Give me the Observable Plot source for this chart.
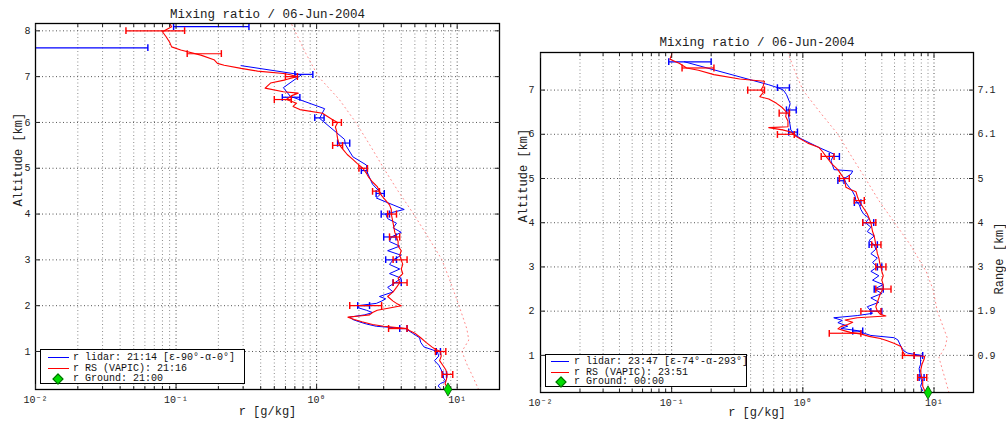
<!DOCTYPE html>
<html><head><meta charset="utf-8">
<script src="https://cdn.jsdelivr.net/npm/d3@7"></script>
<script src="https://cdn.jsdelivr.net/npm/@observablehq/plot@0.6"></script>
<style>
body{margin:0;background:#fff;}
#wrap{position:relative;width:1006px;height:422px;overflow:hidden;font-family:"Liberation Mono","DejaVu Sans Mono",monospace;background:#fff;}
.panel{position:absolute;top:0;}
.legend{position:absolute;border:1px solid #000;background:#fff;font-size:10px;color:#111;box-sizing:border-box;}
.row{position:absolute;left:0;right:0;white-space:nowrap;line-height:11px;height:11px;}
.sw{position:absolute;top:5px;height:1.4px;}
.dia{position:absolute;top:2px;width:6px;height:6px;background:#00dd00;border:1px solid #006600;transform:rotate(45deg);}
.lt{position:absolute;top:0;}
</style></head>
<body><div id="wrap"></div>
<script>
// ---------- text ----------
const titleText = "Mixing ratio / 06-Jun-2004";
const xLabel = "r [g/kg]";
const yLabel = "Altitude [km]";
const rangeLabel = "Range [km]";
const legendA = ["r lidar: 21:14 [ε-90°-α-0°]", "r RS (VAPIC): 21:16", "r Ground: 21:00"];
const legendB = ["r lidar: 23:47 [ε-74°-α-293°]", "r RS (VAPIC): 23:51", "r Ground: 00:00"];

// ---------- ticks ----------
const majorX = [0.01, 0.1, 1, 10];
const majorXLabels = ["10⁻²", "10⁻¹", "10⁰", "10¹"];
const minorX = [0.02,0.03,0.04,0.05,0.06,0.07,0.08,0.09,0.2,0.3,0.4,0.5,0.6,0.7,0.8,0.9,2,3,4,5,6,7,8,9,20];
const altTicksA = [1,2,3,4,5,6,7,8];
const altTicksB = [1,2,3,4,5,6,7];
const rangeTickAlt = [1,2,3,4,5,6,7];
const rangeTickLabels = ["0.9","1.9","3","4","5","6.1","7.1"];

// ---------- panel A (21:14) : [altitude km, r g/kg] ----------
const lidarA = [[0.2,7.6],[0.25,7.3],[0.3,7.6],[0.35,8.3],[0.42,8.0],[0.5,7.9],[0.6,7.7],[0.7,7.4],[0.8,6.9],[0.9,7.4],[1.0,7.2],[1.1,5.8],[1.2,5.5],[1.3,5.4],[1.4,4.8],[1.5,4.3],[1.55,2.66],[1.6,2.26],[1.65,2.0],[1.7,1.8],[1.75,1.72],[1.8,2.2],[1.85,2.5],[1.9,2.26],[1.95,2.0],[2.0,1.96],[2.05,2.66],[2.1,2.9],[2.15,3.1],[2.2,2.8],[2.3,3.5],[2.4,3.2],[2.5,3.6],[2.6,4.0],[2.7,3.3],[2.8,3.9],[2.9,3.3],[3.0,3.5],[3.1,4.0],[3.2,3.2],[3.3,3.9],[3.4,3.3],[3.5,3.4],[3.6,4.0],[3.7,3.5],[3.8,3.7],[3.9,3.2],[4.0,3.1],[4.1,4.2],[4.2,3.5],[4.35,2.66],[4.45,2.88],[4.65,2.5],[4.9,2.3],[5.07,2.26],[5.25,1.81],[5.52,1.6],[5.63,1.58],[6.09,1.05],[6.3,1.14],[6.57,0.65],[6.76,0.58],[7.04,0.78],[7.24,0.29]];
const rsA = [[0.17,8.6],[0.2,8.5],[0.3,8.2],[0.4,8.4],[0.5,8.5],[0.6,8.3],[0.7,7.9],[0.8,7.5],[0.9,7.7],[1.0,7.6],[1.05,7.0],[1.1,6.6],[1.2,6.0],[1.3,5.5],[1.4,5.0],[1.45,4.6],[1.5,4.4],[1.55,3.0],[1.59,2.5],[1.65,2.1],[1.7,1.85],[1.75,1.67],[1.78,2.1],[1.8,2.38],[1.85,2.5],[1.9,2.7],[1.95,3.3],[2.0,4.0],[2.05,3.7],[2.1,3.5],[2.2,3.2],[2.3,3.5],[2.4,3.7],[2.5,3.9],[2.6,3.8],[2.7,4.1],[2.8,4.0],[2.9,4.1],[3.0,4.0],[3.1,3.9],[3.2,4.0],[3.3,3.8],[3.4,3.8],[3.5,3.7],[3.6,3.6],[3.7,3.55],[3.8,3.5],[3.9,3.45],[4.0,3.4],[4.1,3.4],[4.2,3.3],[4.3,3.1],[4.4,2.9],[4.5,2.8],[4.6,2.7],[4.7,2.5],[4.8,2.35],[4.9,2.25],[5.0,2.13],[5.1,1.95],[5.2,1.8],[5.3,1.65],[5.4,1.55],[5.5,1.46],[5.6,1.42],[5.7,1.4],[5.8,1.39],[5.9,1.36],[6.0,1.41],[6.06,1.3],[6.2,1.1],[6.28,0.76],[6.35,0.68],[6.42,0.72],[6.5,0.61],[6.58,0.66],[6.64,0.74],[6.67,0.58],[6.75,0.43],[6.86,0.47],[6.93,0.6],[7.0,0.72],[7.04,0.65],[7.07,0.58],[7.12,0.38],[7.18,0.29],[7.25,0.22],[7.29,0.197],[7.37,0.186],[7.47,0.15],[7.58,0.108],[7.65,0.093],[7.75,0.09],[7.87,0.085],[7.98,0.08],[8.09,0.093],[8.16,0.09]];
// error bars: [altitude, low, high]
const lidarErrA = [[8.09,0.096,0.33],[7.63,0.005,0.063],[7.05,0.7,0.94],[6.55,0.57,0.76],[6.1,0.97,1.13],[5.55,1.41,1.72],[4.95,2.08,2.29],[4.45,2.65,3.03],[4.0,2.88,3.3],[3.5,3.0,3.67],[3.0,3.1,3.7],[2.5,3.5,4.0],[2.0,1.96,2.38],[1.5,3.9,4.4],[1.0,7.1,7.6],[0.5,7.9,8.4]];
const rsErrA = [[8.0,0.044,0.115],[7.5,0.12,0.21],[7.0,0.6,0.73],[6.5,0.5,0.66],[6.0,1.3,1.5],[5.5,1.3,1.53],[5.0,2.0,2.3],[4.5,2.5,2.8],[4.0,3.2,3.7],[3.5,3.3,3.9],[3.0,3.5,4.4],[2.5,3.5,4.4],[2.0,1.72,2.9],[1.5,3.25,4.4],[1.0,7.0,8.3],[0.5,7.8,9.3]];
const satA = [[0.17,14.2],[0.5,12.7],[0.7,11.8],[1.0,10.8],[1.25,12.1],[1.5,11.7],[2.0,10.3],[2.5,9.0],[3.0,7.8],[3.5,6.2],[4.0,4.9],[4.5,3.8],[5.0,3.0],[5.5,2.4],[6.0,1.9],[6.5,1.45],[7.0,1.03],[7.5,0.84],[8.0,0.7],[8.16,0.66]];
const groundA = [0.17, 8.6];

// ---------- panel B (23:47) ----------
const lidarB = [[0.2,8.2],[0.3,7.9],[0.4,8.1],[0.5,7.9],[0.6,7.8],[0.7,7.7],[0.8,7.9],[0.9,7.9],[1.0,7.9],[1.05,6.3],[1.1,5.9],[1.2,5.6],[1.35,5.3],[1.4,4.95],[1.45,3.3],[1.5,2.93],[1.56,2.6],[1.61,1.95],[1.66,2.2],[1.74,1.85],[1.79,2.0],[1.85,1.72],[1.9,2.6],[1.95,3.4],[2.0,3.3],[2.1,3.1],[2.2,3.8],[2.3,3.3],[2.4,4.0],[2.5,3.5],[2.6,4.1],[2.7,3.4],[2.8,3.8],[2.9,3.3],[3.0,3.7],[3.1,3.4],[3.2,3.7],[3.3,3.3],[3.4,3.6],[3.5,3.5],[3.6,3.2],[3.7,3.5],[3.8,3.1],[3.9,3.3],[4.0,3.0],[4.1,3.2],[4.2,2.9],[4.3,2.77],[4.4,2.7],[4.5,2.54],[4.6,2.5],[4.7,2.4],[4.8,2.26],[4.9,2.13],[5.0,2.07],[5.1,2.33],[5.17,2.4],[5.2,1.73],[5.4,1.64],[5.55,1.73],[5.7,1.33],[5.9,0.97],[6.0,0.86],[6.1,0.81],[6.3,0.79],[6.5,0.77],[6.7,0.8],[6.9,0.75],[7.0,0.71],[7.05,0.65],[7.12,0.55],[7.64,0.125]];
const rsB = [[0.16,8.77],[0.2,8.5],[0.3,8.2],[0.42,8.2],[0.55,8.0],[0.65,7.9],[0.8,8.1],[0.91,8.4],[0.98,8.5],[1.0,6.0],[1.1,5.75],[1.2,5.6],[1.27,5.0],[1.33,4.4],[1.38,3.9],[1.43,3.2],[1.48,2.8],[1.52,2.3],[1.56,2.06],[1.6,1.85],[1.65,1.95],[1.7,2.2],[1.75,2.4],[1.8,2.1],[1.85,2.6],[1.89,4.3],[1.93,3.9],[2.0,3.7],[2.1,3.6],[2.2,3.7],[2.3,3.8],[2.4,3.9],[2.5,4.1],[2.6,4.1],[2.7,4.0],[2.8,4.1],[2.9,4.0],[3.0,3.94],[3.1,3.85],[3.2,3.8],[3.3,3.7],[3.4,3.65],[3.5,3.6],[3.6,3.55],[3.7,3.5],[3.8,3.4],[3.9,3.35],[4.0,3.3],[4.1,3.2],[4.2,3.1],[4.3,2.95],[4.4,2.8],[4.5,2.68],[4.6,2.6],[4.7,2.54],[4.75,2.3],[4.8,2.13],[4.9,2.1],[5.0,2.06],[5.1,1.95],[5.2,1.85],[5.35,1.64],[5.45,1.55],[5.5,1.5],[5.6,1.42],[5.7,1.33],[5.8,1.09],[5.95,0.89],[6.05,0.81],[6.1,0.7],[6.15,0.55],[6.17,0.77],[6.3,0.77],[6.4,0.74],[6.5,0.75],[6.6,0.7],[6.7,0.63],[6.8,0.55],[6.85,0.47],[6.95,0.5],[7.0,0.48],[7.1,0.5],[7.2,0.51],[7.25,0.33],[7.35,0.21],[7.45,0.16],[7.5,0.13],[7.6,0.115],[7.7,0.097],[7.8,0.1],[7.85,0.1]];
const lidarErrB = [[7.64,0.095,0.2],[7.05,0.64,0.79],[6.55,0.75,0.89],[6.05,0.78,0.91],[5.5,1.59,1.9],[4.95,1.85,2.06],[4.45,2.47,2.77],[4.0,2.86,3.47],[3.5,3.2,3.7],[3.0,3.7,4.0],[2.5,3.5,4.1],[2.0,3.3,4.0],[1.55,2.4,2.86],[1.0,7.06,8.2],[0.5,7.7,8.4]];
const rsErrB = [[7.5,0.12,0.21],[7.0,0.38,0.51],[6.48,0.66,0.79],[6.0,0.64,0.86],[5.5,1.38,1.73],[5.0,1.9,2.26],[4.5,2.47,2.94],[4.0,2.86,3.6],[3.5,3.35,3.94],[3.0,3.6,4.3],[2.5,3.6,4.7],[2.0,2.77,3.94],[1.5,1.59,2.77],[1.0,5.75,7.06],[0.5,7.5,8.8]];
const satB = [[0.16,13.0],[0.6,11.8],[0.95,10.9],[1.2,12.2],[1.4,12.6],[2.0,10.6],[2.5,9.8],[2.9,8.7],[3.5,6.6],[4.0,5.0],[4.5,3.8],[5.0,3.0],[5.5,2.35],[6.0,1.85],[6.5,1.35],[7.0,1.0],[7.5,0.85],[7.85,0.77]];
const groundB = [0.16, 9.0];

const FONT = '"Liberation Mono","DejaVu Sans Mono",monospace';
const xFmt = d => majorXLabels[majorX.indexOf(d)];
const rangeFmt = d => rangeTickLabels[rangeTickAlt.indexOf(d)];

function panel(c) {
  const A = d => d[0], R = d => d[1];
  const minor = minorX.filter(v => v < c.xDomain[1]);
  const marks = [
    Plot.ruleX(minor, {stroke: "#8c8c8c", strokeDasharray: "1,2.5"}),
    Plot.ruleX(majorX, {stroke: "#555", strokeDasharray: "1,2.5"}),
    Plot.ruleY(c.yTicks, {stroke: "#555", strokeDasharray: "1,2.5"}),
    Plot.line(c.sat, {x: R, y: A, stroke: "#ff8a8a", strokeWidth: 1, strokeDasharray: "1,3.5", clip: true}),
    Plot.line(c.lidar, {x: R, y: A, stroke: "#0000ff", strokeWidth: 1, clip: true}),
    Plot.link(c.lidarErr, {x1: d => d[1], x2: d => d[2], y1: A, y2: A, stroke: "#0000ff", strokeWidth: 1.2, markerStart: "tick", markerEnd: "tick", clip: true}),
    Plot.line(c.rs, {x: R, y: A, stroke: "#ff0000", strokeWidth: 1.1, clip: true}),
    Plot.link(c.rsErr, {x1: d => d[1], x2: d => d[2], y1: A, y2: A, stroke: "#ff0000", strokeWidth: 1.2, markerStart: "tick", markerEnd: "tick", clip: true}),
    Plot.frame({stroke: "#000", strokeWidth: 1.3}),
    // inward tick marks
    Plot.axisX(majorX, {anchor: "bottom", tickSize: 5, dy: -5, fill: "none", label: null}),
    Plot.axisX(minor, {anchor: "bottom", tickSize: 3, dy: -3, fill: "none", label: null}),
    Plot.axisX(majorX, {anchor: "top", tickSize: 5, dy: 5, fill: "none", label: null}),
    Plot.axisX(minor, {anchor: "top", tickSize: 3, dy: 3, fill: "none", label: null}),
    Plot.axisY(c.yTicks, {anchor: "left", tickSize: 5, dx: 5, fill: "none", label: null}),
    Plot.axisY(c.rightTicks || c.yTicks, {anchor: "right", tickSize: 5, dx: -5, fill: "none", label: null}),
    // tick labels
    Plot.axisX(majorX, {anchor: "bottom", tickSize: 0, tickPadding: 6, tickFormat: xFmt, label: null, fill: "#222"}),
    Plot.axisY(c.yTicks, {anchor: "left", tickSize: 0, tickPadding: c.yPad, label: null, fill: "#222"}),
    // titles
    Plot.text([titleText], {frameAnchor: "top", text: d => d, dy: c.titleDy, lineAnchor: "bottom", fontSize: 12.5, fill: "#222"}),
    Plot.text([xLabel], {frameAnchor: "bottom", text: d => d, dy: c.xLabDy, lineAnchor: "bottom", fontSize: 12, fill: "#222"}),
    Plot.text([yLabel], {frameAnchor: "left", text: d => d, dx: -22, rotate: -90, lineAnchor: "top", fontSize: 12, fill: "#222"}),
    Plot.dot([c.ground], {x: R, y: A, symbol: "diamond", r: 4, fill: "#00dd00", stroke: "#005500", strokeWidth: 0.8})
  ];
  if (c.rightTicks) {
    marks.push(Plot.axisY(c.rightTicks, {anchor: "right", tickSize: 0, tickPadding: 4, tickFormat: rangeFmt, label: null, fill: "#222"}));
    marks.push(Plot.text([rangeLabel], {frameAnchor: "right", text: d => d, dx: 29, rotate: -90, lineAnchor: "bottom", fontSize: 12, fill: "#222"}));
  }
  return Plot.plot({
    width: c.width, height: 422,
    marginLeft: c.m[3], marginRight: c.m[1], marginTop: c.m[0], marginBottom: c.m[2],
    x: {type: "log", domain: c.xDomain},
    y: {domain: c.yDomain},
    style: {fontFamily: FONT, fontSize: "10px", color: "#222", background: "transparent", overflow: "visible"},
    marks
  });
}

function legend(parent, left, top, w, h, labels, rows, sw, textLeft, diaLeft) {
  const box = document.createElement("div");
  box.className = "legend";
  Object.assign(box.style, {left: left + "px", top: top + "px", width: w + "px", height: h + "px"});
  const colors = ["#0000ff", "#ff0000", null];
  labels.forEach((lab, i) => {
    const row = document.createElement("div");
    row.className = "row"; row.style.top = rows[i] + "px";
    if (colors[i]) {
      const s = document.createElement("span"); s.className = "sw";
      Object.assign(s.style, {left: sw[0] + "px", width: (sw[1] - sw[0]) + "px", background: colors[i]});
      row.appendChild(s);
    } else {
      const d = document.createElement("span"); d.className = "dia"; d.style.left = diaLeft + "px";
      row.appendChild(d);
    }
    const t = document.createElement("span"); t.className = "lt"; t.style.left = textLeft + "px"; t.textContent = lab;
    row.appendChild(t);
    box.appendChild(row);
  });
  parent.appendChild(box);
}

const wrap = document.getElementById("wrap");
const pA = panel({width: 505, m: [23, 6, 33, 35], xDomain: [0.01, 20], yDomain: [0.17, 8.16], yTicks: altTicksA,
  lidar: lidarA, rs: rsA, lidarErr: lidarErrA, rsErr: rsErrA, sat: satA, ground: groundA, yPad: 5, titleDy: -6, xLabDy: 25});
const pB = panel({width: 501, m: [52, 33, 30, 35], xDomain: [0.01, 20], yDomain: [0.16, 7.85], yTicks: altTicksB, rightTicks: rangeTickAlt,
  lidar: lidarB, rs: rsB, lidarErr: lidarErrB, rsErr: rsErrB, sat: satB, ground: groundB, yPad: 6, titleDy: -7, xLabDy: 23});
const dA = document.createElement("div"); dA.className = "panel"; dA.style.left = "0px"; dA.style.width = "505px"; dA.appendChild(pA); wrap.appendChild(dA);
const dB = document.createElement("div"); dB.className = "panel"; dB.style.left = "505px"; dB.style.width = "501px"; dB.appendChild(pB); wrap.appendChild(dB);

legend(wrap, 40, 349, 205, 35, legendA, [2, 13, 23], [7, 28], 32, 13);
legend(wrap, 545, 354, 202, 33, legendB, [1, 12, 21], [5, 23], 28, 11);
</script></body></html>
